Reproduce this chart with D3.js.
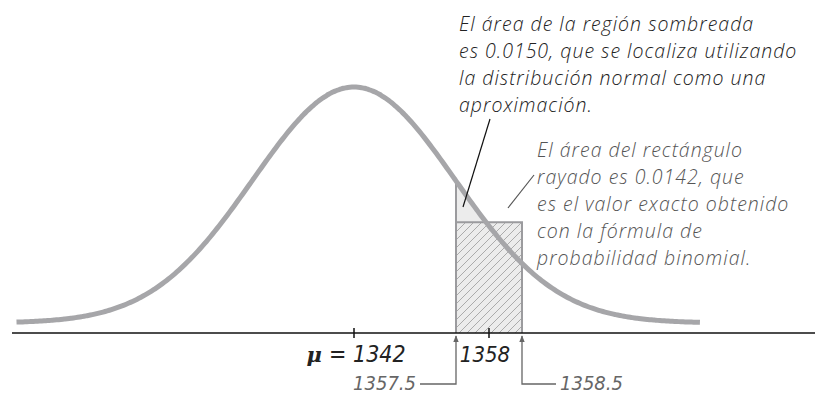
<!DOCTYPE html>
<html>
<head>
<meta charset="utf-8">
<script src="https://cdn.jsdelivr.net/npm/d3@7"></script>
<style>
  body { margin: 0; background: #fff; }
  svg { display: block; }
  .note { font-family: "Open Sans", sans-serif; font-style: italic; font-weight: 300; letter-spacing: 1px; }
  .num { font-family: "Liberation Sans Narrow", "DejaVu Sans Condensed", "Open Sans", sans-serif; font-style: italic; }
</style>
</head>
<body>
<div id="chart-area"></div>
<script>
// data
var mean = 1342;
var sd = 12;                      // spread of the drawn normal curve
var curveRange = [1302, 1383];    // where the drawn curve starts / stops
var tickValues = [1342, 1358];
var tickLabels = ['= 1342', '1358'];
var rectEdges = [1357.5, 1358.5];
var edgeLabels = ['1357.5', '1358.5'];
var binomProb = 0.0142;           // area of the hatched rectangle
var normalProb = 0.0150;          // area of the shaded region

var noteNormal = [
    'El área de la región sombreada',
    'es 0.0150, que se localiza utilizando',
    'la distribución normal como una',
    'aproximación.'
];
var noteBinom = [
    'El área del rectángulo',
    'rayado es 0.0142, que',
    'es el valor exacto obtenido',
    'con la fórmula de',
    'probabilidad binomial.'
];

var def = {
    width: 815,
    height: 395,
    axisY: 333,
    baseY: 323,
    peakY: 87,
    rectHalf: 33      // the one-unit bar is drawn magnified
};

var svg = d3.select('#chart-area').append('svg')
    .attr('width', def.width)
    .attr('height', def.height);

function pdf(v) {
    var z = (v - mean) / sd;
    return Math.exp(-z * z / 2) / (sd * Math.sqrt(2 * Math.PI));
}

// scales
var x = d3.scaleLinear()
    .domain(tickValues)
    .range([354, 489]);

// magnified scale for the single bar around 1358
var xMag = d3.scaleLinear()
    .domain(rectEdges)
    .range([x(1358) - def.rectHalf, x(1358) + def.rectHalf]);

var y = d3.scaleLinear()
    .domain([0, pdf(mean)])
    .range([def.baseY, def.peakY]);

// hatch pattern
var defs = svg.append('defs');
defs.append('pattern')
    .attr('id', 'hatch')
    .attr('patternUnits', 'userSpaceOnUse')
    .attr('width', 8)
    .attr('height', 8)
    .append('path')
    .attr('d', 'M-2,2 L2,-2 M0,8 L8,0 M6,10 L10,6')
    .attr('stroke', '#9a9a9a')
    .attr('stroke-width', 0.8);

defs.append('marker')
    .attr('id', 'arrow')
    .attr('viewBox', '0 0 10 10')
    .attr('refX', 9)
    .attr('refY', 5)
    .attr('markerWidth', 7)
    .attr('markerHeight', 8)
    .attr('markerUnits', 'userSpaceOnUse')
    .attr('orient', 'auto')
    .append('path')
    .attr('d', 'M0,1 L10,5 L0,9 z')
    .attr('fill', '#666');

// shaded region under the curve over the magnified bar
var shadePts = d3.range(xMag(rectEdges[0]), xMag(rectEdges[1]) + 0.5, 1)
    .map(function(px) { return [px, y(pdf(x.invert(px)))]; });

var shadeArea = d3.area()
    .x(function(d) { return d[0]; })
    .y0(def.axisY)
    .y1(function(d) { return d[1]; });

svg.append('path')
    .datum(shadePts)
    .attr('d', shadeArea)
    .attr('fill', '#ececec');

// hatched rectangle (binomial)
svg.append('rect')
    .attr('x', xMag(rectEdges[0]))
    .attr('y', y(binomProb))
    .attr('width', xMag(rectEdges[1]) - xMag(rectEdges[0]))
    .attr('height', def.axisY - y(binomProb))
    .attr('fill', '#ececec');

svg.append('rect')
    .attr('x', xMag(rectEdges[0]))
    .attr('y', y(binomProb))
    .attr('width', xMag(rectEdges[1]) - xMag(rectEdges[0]))
    .attr('height', def.axisY - y(binomProb))
    .attr('fill', 'url(#hatch)');

// outline: left side up to the curve, top of rect, right side
svg.append('path')
    .attr('d', 'M' + xMag(rectEdges[0]) + ',' + def.axisY +
        'V' + y(pdf(x.invert(xMag(rectEdges[0])))) +
        'M' + xMag(rectEdges[0]) + ',' + y(binomProb) +
        'H' + xMag(rectEdges[1]) +
        'V' + def.axisY)
    .attr('fill', 'none')
    .attr('stroke', '#9b9b9e')
    .attr('stroke-width', 2);

// normal curve
var curvePts = d3.range(curveRange[0], curveRange[1] + 0.01, 0.25);
var line = d3.line()
    .x(function(d) { return x(d); })
    .y(function(d) { return y(pdf(d)); })
    .curve(d3.curveBasis);

svg.append('path')
    .datum(curvePts)
    .attr('d', line)
    .attr('fill', 'none')
    .attr('stroke', '#a6a6a9')
    .attr('stroke-width', 5);

// axis line + ticks
svg.append('line')
    .attr('x1', 12).attr('x2', def.width)
    .attr('y1', def.axisY).attr('y2', def.axisY)
    .attr('stroke', '#111')
    .attr('stroke-width', 1.5);

svg.selectAll('.tick')
    .data(tickValues)
    .enter().append('line')
    .attr('class', 'tick')
    .attr('x1', function(d) { return x(d); })
    .attr('x2', function(d) { return x(d); })
    .attr('y1', def.axisY - 5)
    .attr('y2', def.axisY + 5)
    .attr('stroke', '#111')
    .attr('stroke-width', 1.5);

// tick labels
var mu = svg.append('text')
    .attr('class', 'num')
    .attr('x', x(tickValues[0]) + 2)
    .attr('y', 362)
    .attr('text-anchor', 'middle')
    .attr('font-size', 23)
    .attr('fill', '#222');
mu.append('tspan')
    .attr('font-family', 'DejaVu Serif')
    .attr('font-weight', 'bold')
    .attr('font-size', 21)
    .text('μ ');
mu.append('tspan').text(tickLabels[0]);

svg.append('text')
    .attr('class', 'num')
    .attr('x', x(tickValues[1]) - 4)
    .attr('y', 362)
    .attr('text-anchor', 'middle')
    .attr('font-size', 22)
    .attr('fill', '#222')
    .text(tickLabels[1]);

// arrows to the bar edges
var arrowY = 384;
svg.append('path')
    .attr('d', 'M' + (xMag(rectEdges[0]) - 36) + ',' + arrowY + 'H' + xMag(rectEdges[0]) + 'V' + (def.axisY + 3))
    .attr('fill', 'none').attr('stroke', '#666').attr('stroke-width', 1.3)
    .attr('marker-end', 'url(#arrow)');
svg.append('path')
    .attr('d', 'M' + (xMag(rectEdges[1]) + 34) + ',' + arrowY + 'H' + xMag(rectEdges[1]) + 'V' + (def.axisY + 3))
    .attr('fill', 'none').attr('stroke', '#666').attr('stroke-width', 1.3)
    .attr('marker-end', 'url(#arrow)');

svg.append('text')
    .attr('class', 'num')
    .attr('x', xMag(rectEdges[0]) - 40)
    .attr('y', 390)
    .attr('text-anchor', 'end')
    .attr('font-size', 20)
    .attr('fill', '#666')
    .text(edgeLabels[0]);
svg.append('text')
    .attr('class', 'num')
    .attr('x', xMag(rectEdges[1]) + 38)
    .attr('y', 390)
    .attr('font-size', 20)
    .attr('fill', '#666')
    .text(edgeLabels[1]);

// notes
svg.append('g').selectAll('text')
    .data(noteNormal)
    .enter().append('text')
    .attr('class', 'note')
    .attr('x', 459)
    .attr('y', function(d, i) { return 31 + i * 27; })
    .attr('font-size', 19.5)
    .attr('fill', '#222')
    .text(function(d) { return d; });

svg.append('g').selectAll('text')
    .data(noteBinom)
    .enter().append('text')
    .attr('class', 'note')
    .attr('x', 537)
    .attr('y', function(d, i) { return 157 + i * 27; })
    .attr('font-size', 19.5)
    .attr('fill', '#555')
    .text(function(d) { return d; });

// leader lines
svg.append('line')
    .attr('x1', 490).attr('y1', 119)
    .attr('x2', 463).attr('y2', 207)
    .attr('stroke', '#111').attr('stroke-width', 1.2);
svg.append('line')
    .attr('x1', 534).attr('y1', 175)
    .attr('x2', 508).attr('y2', 208)
    .attr('stroke', '#555').attr('stroke-width', 1.2);
</script>
</body>
</html>
